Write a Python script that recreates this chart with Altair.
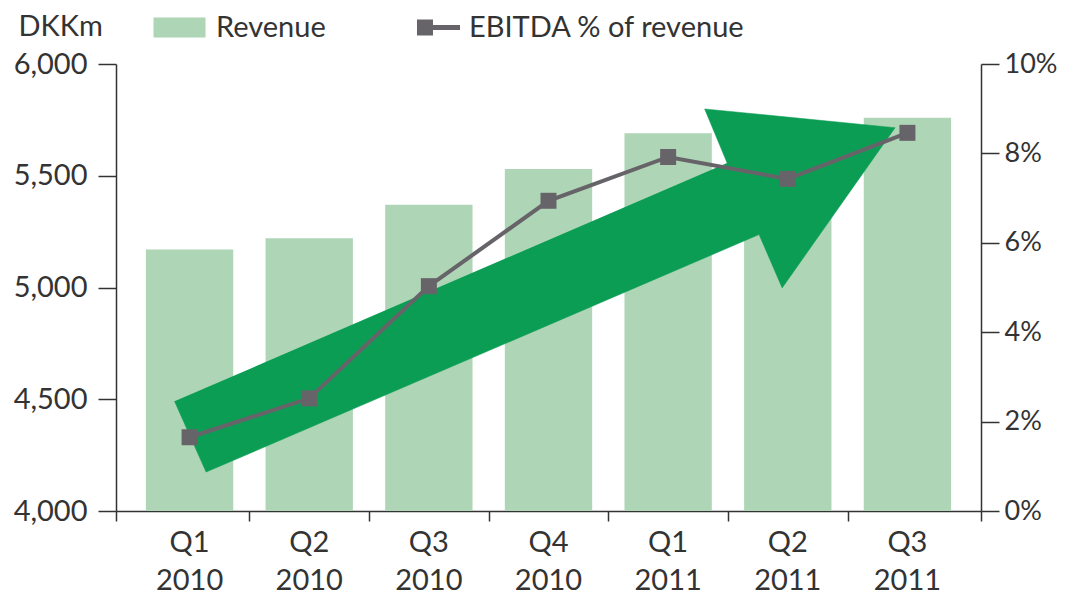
import altair as alt
import pandas as pd

# ---- data ----
quarters = ["Q1 2010", "Q2 2010", "Q3 2010", "Q4 2010", "Q1 2011", "Q2 2011", "Q3 2011"]
revenue = [5170, 5220, 5370, 5530, 5690, 5730, 5760]          # DKKm
ebitda_pct = [1.65, 2.52, 5.03, 6.94, 7.92, 7.43, 8.46]        # % of revenue
# decorative arrow outline, in (quarter index, DKKm) data units
arrow_x = [-0.126, 0.138, 4.760, 4.953, 5.897, 4.305, 4.493]
arrow_y = [4491, 4174, 5237, 4998, 5715, 5799, 5557]
left_ticks = [4000, 4500, 5000, 5500, 6000]
right_ticks = [0, 2, 4, 6, 8, 10]

# ---- styling ----
FONT = "Lato"
FS = 29
TXT = "#333333"
AX = "#333333"
BAR = "#aed6b6"
ARROW = "#0c9d55"
LINE = "#676469"
PAD_INNER = 0.27
PAD_OUTER = 0.25

n = len(quarters)
half = PAD_OUTER + (1 - PAD_INNER) / 2
x_dom = [-half, n - 1 + half]
x_ticks = [x_dom[0]] + [i + 0.5 for i in range(n - 1)] + [x_dom[1]]

df = pd.DataFrame({
    "quarter": quarters,
    "revenue": revenue,
    "ebitda": ebitda_pct,
    "s_rev": ["Revenue"] * n,
    "s_eb": ["EBITDA % of revenue"] * n,
})
arrow_df = pd.DataFrame({"ax": arrow_x, "ay": arrow_y, "k": list(range(len(arrow_x)))})

band = alt.Scale(type="band", paddingInner=PAD_INNER, paddingOuter=PAD_OUTER)

axis_common = dict(labelFont=FONT, labelColor=TXT,
                   domainColor=AX, tickColor=AX, domainWidth=1.5, tickWidth=1.5, grid=False)

bars = alt.Chart(df).mark_bar(clip=True).encode(
    x=alt.X("quarter:N", sort=quarters, scale=band,
            axis=alt.Axis(title=None, domain=False, ticks=False, labelAngle=0,
                          labelExpr="split(datum.label, ' ')", labelPadding=17,
                          labelLineHeight=38, labelFont=FONT, labelFontSize=FS,
                          labelColor=TXT, orient="bottom")),
    y=alt.Y("revenue:Q", scale=alt.Scale(domain=[4000, 6000], zero=False, nice=False),
            axis=alt.Axis(orient="left", values=left_ticks, format=",.0f", tickSize=18,
                          labelPadding=11, labelFontSize=FS, title="DKKm", titleAngle=0,
                          titleX=-98, titleY=-38, titleAlign="left", titleBaseline="middle",
                          titleFont=FONT, titleFontSize=FS, titleFontWeight="normal",
                          titleColor=TXT, **axis_common)),
    fill=alt.Fill("s_rev:N", scale=alt.Scale(domain=["Revenue"], range=[BAR]),
                  legend=alt.Legend(orient="none", legendX=49, legendY=-51, title=None,
                                    symbolType="M-2.6,-1H2.6V1H-2.6Z", symbolSize=400,
                                    symbolStrokeWidth=0, labelFont=FONT, labelFontSize=FS,
                                    labelColor=TXT, labelOffset=22, labelLimit=400,
                                    padding=0)),
)

arrow = alt.Chart(arrow_df).mark_line(fill=ARROW, stroke=ARROW, strokeWidth=0.5).encode(
    x=alt.X("ax:Q", scale=alt.Scale(domain=x_dom, nice=False, zero=False),
            axis=alt.Axis(orient="bottom", values=x_ticks, labels=False, title=None,
                          tickSize=10, **axis_common)),
    y=alt.Y("ay:Q", scale=alt.Scale(domain=[4000, 6000], zero=False, nice=False), axis=None),
    order="k:Q",
)

line = alt.Chart(df).mark_line(color=LINE, strokeWidth=4).encode(
    x=alt.X("quarter:N", sort=quarters, scale=band, axis=None),
    y=alt.Y("ebitda:Q", scale=alt.Scale(domain=[0, 10], nice=False, zero=True),
            axis=alt.Axis(orient="right", values=right_ticks, labelExpr="datum.value + '%'",
                          tickSize=18, labelPadding=5, labelFontSize=27, title=None,
                          **axis_common)),
)

squares = alt.Chart(df).mark_square(size=256, opacity=1).encode(
    x=alt.X("quarter:N", sort=quarters, scale=band, axis=None),
    y=alt.Y("ebitda:Q", scale=alt.Scale(domain=[0, 10], nice=False, zero=True), axis=None),
    fill=alt.Fill("s_eb:N", scale=alt.Scale(domain=["EBITDA % of revenue"], range=[LINE]),
                  legend=alt.Legend(orient="none", legendX=308, legendY=-51, title=None,
                                    symbolType="M-2.69,-1H-0.69V1H-2.69Z M-0.69,-0.3H2.69V0.3H-0.69Z",
                                    symbolSize=256, symbolStrokeWidth=0,
                                    labelFont=FONT, labelFontSize=FS, labelColor=TXT,
                                    labelOffset=16, labelLimit=400, padding=0)),
)

chart = alt.layer(bars, arrow, line, squares).resolve_scale(
    x="independent", y="independent", fill="independent"
).properties(
    width=865, height=447,
    padding={"left": 108, "top": 56, "right": 80, "bottom": 83},
    autosize=alt.AutoSizeParams(type="none"),
).configure_view(stroke=None)

chart.save("out.html", embed_options={"renderer": "svg", "actions": False})
